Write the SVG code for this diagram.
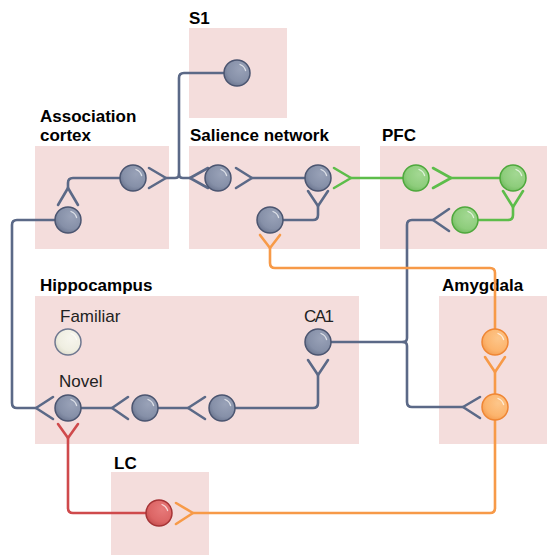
<svg xmlns="http://www.w3.org/2000/svg" width="547" height="555" viewBox="0 0 547 555">
  <defs>
    <radialGradient id="gGray" cx="0.62" cy="0.35" r="0.7">
      <stop offset="0" stop-color="#99a2b8"/>
      <stop offset="0.7" stop-color="#8690a8"/>
      <stop offset="1" stop-color="#6c7690"/>
    </radialGradient>
    <radialGradient id="gGreen" cx="0.62" cy="0.35" r="0.7">
      <stop offset="0" stop-color="#a3d893"/>
      <stop offset="0.7" stop-color="#8ecd7c"/>
      <stop offset="1" stop-color="#72bb60"/>
    </radialGradient>
    <radialGradient id="gOrange" cx="0.62" cy="0.35" r="0.7">
      <stop offset="0" stop-color="#fdc68a"/>
      <stop offset="0.7" stop-color="#fcb46d"/>
      <stop offset="1" stop-color="#f59d50"/>
    </radialGradient>
    <radialGradient id="gRed" cx="0.62" cy="0.35" r="0.7">
      <stop offset="0" stop-color="#e77a7a"/>
      <stop offset="0.7" stop-color="#dc6565"/>
      <stop offset="1" stop-color="#c44f50"/>
    </radialGradient>
    <radialGradient id="gCream" cx="0.62" cy="0.35" r="0.7">
      <stop offset="0" stop-color="#f7f6ee"/>
      <stop offset="0.7" stop-color="#efeee1"/>
      <stop offset="1" stop-color="#dedccb"/>
    </radialGradient>
  </defs>
  <style>
    .region { fill: #f4dddc; }
    .title { font-family: "Liberation Sans", Arial, sans-serif; font-weight: bold; font-size: 17px; fill: #000; }
    .label { font-family: "Liberation Sans", Arial, sans-serif; font-size: 17px; fill: #222; }
    .wire { fill: none; stroke-width: 2.6; stroke-linecap: round; stroke-linejoin: round; }
    .gray { stroke: #5b6987; }
    .green { stroke: #5dbd4a; }
    .orange { stroke: #f79a48; }
    .red { stroke: #cf4a4c; }
    .cell circle { stroke-width: 1.5; }
    .cell.gray circle { fill: url(#gGray); stroke: #4b5570; }
    .cell.green circle { fill: url(#gGreen); stroke: #4ea83c; }
    .cell.orange circle { fill: url(#gOrange); stroke: #ef8634; }
    .cell.red circle { fill: url(#gRed); stroke: #a63436; }
    .cell.cream circle { fill: url(#gCream); stroke: #6f7890; }
    .hl { fill: none; stroke: #ffffff; stroke-opacity: 0.7; stroke-width: 1.3; stroke-linecap: round; }
  </style>

  <!-- brain regions -->
  <g id="regions">
    <rect class="region" x="189" y="28" width="98" height="90"/>
    <rect class="region" x="35" y="146" width="134" height="103"/>
    <rect class="region" x="189" y="146" width="171" height="103"/>
    <rect class="region" x="380" y="146" width="167" height="103"/>
    <rect class="region" x="35" y="296" width="324" height="148"/>
    <rect class="region" x="439" y="296" width="108" height="148"/>
    <rect class="region" x="111" y="472" width="98" height="83"/>
  </g>

  <!-- region titles and cell labels -->
  <g id="titles">
    <text class="title" x="189" y="24">S1</text>
    <text class="title" x="40" y="122">Association</text>
    <text class="title" x="40" y="141">cortex</text>
    <text class="title" x="190" y="141">Salience network</text>
    <text class="title" x="382" y="141">PFC</text>
    <text class="title" x="40" y="291">Hippocampus</text>
    <text class="title" x="442" y="291">Amygdala</text>
    <text class="title" x="114" y="469">LC</text>
    <text class="label" x="60" y="322">Familiar</text>
    <text class="label" x="59" y="387">Novel</text>
    <text class="label" x="304" y="322" textLength="30">CA1</text>
  </g>

  <!-- connectors: axons, dendrites and synaptic forks -->
  <g id="connectors">
    <!-- S1 projection, splitting to association cortex and salience network -->
    <path class="wire gray" d="M224,73 H184 Q179,73 179,78 V174 Q179,178 175,178 H166"/>
    <path class="wire gray" d="M179,174 Q179,178 183,178 H190"/>
    <path class="wire gray" d="M149,168 L166,178 L149,188"/>
    <path class="wire gray" d="M208,168 L190,178 L208,188"/>
    <!-- salience network -->
    <path class="wire gray" d="M236,168 L252,178 L236,188"/>
    <path class="wire gray" d="M252,178 H305"/>
    <path class="wire gray" d="M308,191 L318,206 L328,191"/>
    <path class="wire gray" d="M318,206 V215 Q318,220 313,220 H283"/>
    <!-- association cortex -->
    <path class="wire gray" d="M58,205 L68,188 L78,205"/>
    <path class="wire gray" d="M68,188 V183 Q68,178 73,178 H120"/>
    <!-- long loop from association cortex to novel cell -->
    <path class="wire gray" d="M55,220 H17 Q12,220 12,225 V403 Q12,408 17,408 H36"/>
    <path class="wire gray" d="M53,397 L36,408 L53,419"/>
    <!-- hippocampal chain -->
    <path class="wire gray" d="M81,408 H112"/>
    <path class="wire gray" d="M128,397 L112,408 L128,419"/>
    <path class="wire gray" d="M158,408 H188"/>
    <path class="wire gray" d="M205,397 L188,408 L205,419"/>
    <path class="wire gray" d="M235,408 H313 Q318,408 318,403 V375"/>
    <path class="wire gray" d="M308,360 L318,375 L328,360"/>
    <!-- CA1 output to PFC and amygdala -->
    <path class="wire gray" d="M331,342 H403 Q407,342 407,338 V225 Q407,220 412,220 H433"/>
    <path class="wire gray" d="M403,342 Q407,342 407,346 V402 Q407,407 412,407 H463"/>
    <path class="wire gray" d="M449,209 L433,220 L449,231"/>
    <path class="wire gray" d="M480,397 L463,407 L480,418"/>
    <!-- PFC -->
    <path class="wire green" d="M334,168 L351,178 L334,188"/>
    <path class="wire green" d="M351,178 H403"/>
    <path class="wire green" d="M433,168 L451,178 L433,188"/>
    <path class="wire green" d="M451,178 H500"/>
    <path class="wire green" d="M503,191 L513,207 L523,191"/>
    <path class="wire green" d="M513,207 V215 Q513,220 508,220 H478"/>
    <!-- amygdala -->
    <path class="wire orange" d="M260,235 L270,248 L280,235"/>
    <path class="wire orange" d="M270,248 V263 Q270,268 275,268 H490 Q495,268 495,273 V329"/>
    <path class="wire orange" d="M485,357 L495,372 L505,357"/>
    <path class="wire orange" d="M495,372 V394"/>
    <path class="wire orange" d="M495,420 V508 Q495,513 490,513 H193"/>
    <path class="wire orange" d="M176,503 L193,513 L176,524"/>
    <!-- locus coeruleus -->
    <path class="wire red" d="M58,424 L68,438 L78,424"/>
    <path class="wire red" d="M68,438 V508 Q68,513 73,513 H146"/>
  </g>

  <!-- cells -->
  <g id="s1-cell" class="cell gray" transform="translate(237,73)"><circle r="13"/><path class="hl" d="M3,-8.5 A9,9 0 0 1 8.6,-2.5"/></g>
  <g id="assoc-cell-1" class="cell gray" transform="translate(133,178)"><circle r="13"/><path class="hl" d="M3,-8.5 A9,9 0 0 1 8.6,-2.5"/></g>
  <g id="assoc-cell-2" class="cell gray" transform="translate(68,220)"><circle r="13"/><path class="hl" d="M3,-8.5 A9,9 0 0 1 8.6,-2.5"/></g>
  <g id="salience-cell-1" class="cell gray" transform="translate(218,178)"><circle r="13"/><path class="hl" d="M3,-8.5 A9,9 0 0 1 8.6,-2.5"/></g>
  <g id="salience-cell-2" class="cell gray" transform="translate(318,178)"><circle r="13"/><path class="hl" d="M3,-8.5 A9,9 0 0 1 8.6,-2.5"/></g>
  <g id="salience-cell-3" class="cell gray" transform="translate(270,220)"><circle r="13"/><path class="hl" d="M3,-8.5 A9,9 0 0 1 8.6,-2.5"/></g>
  <g id="pfc-cell-1" class="cell green" transform="translate(416,178)"><circle r="13"/><path class="hl" d="M3,-8.5 A9,9 0 0 1 8.6,-2.5"/></g>
  <g id="pfc-cell-2" class="cell green" transform="translate(513,178)"><circle r="13"/><path class="hl" d="M3,-8.5 A9,9 0 0 1 8.6,-2.5"/></g>
  <g id="pfc-cell-3" class="cell green" transform="translate(465,220)"><circle r="13"/><path class="hl" d="M3,-8.5 A9,9 0 0 1 8.6,-2.5"/></g>
  <g id="familiar-cell" class="cell cream" transform="translate(68,342)"><circle r="13"/><path class="hl" d="M3,-8.5 A9,9 0 0 1 8.6,-2.5"/></g>
  <g id="novel-cell-1" class="cell gray" transform="translate(68,408)"><circle r="13"/><path class="hl" d="M3,-8.5 A9,9 0 0 1 8.6,-2.5"/></g>
  <g id="novel-cell-2" class="cell gray" transform="translate(145,408)"><circle r="13"/><path class="hl" d="M3,-8.5 A9,9 0 0 1 8.6,-2.5"/></g>
  <g id="novel-cell-3" class="cell gray" transform="translate(222,408)"><circle r="13"/><path class="hl" d="M3,-8.5 A9,9 0 0 1 8.6,-2.5"/></g>
  <g id="ca1-cell" class="cell gray" transform="translate(318,342)"><circle r="13"/><path class="hl" d="M3,-8.5 A9,9 0 0 1 8.6,-2.5"/></g>
  <g id="amygdala-cell-1" class="cell orange" transform="translate(495,342)"><circle r="13"/><path class="hl" d="M3,-8.5 A9,9 0 0 1 8.6,-2.5"/></g>
  <g id="amygdala-cell-2" class="cell orange" transform="translate(495,407)"><circle r="13"/><path class="hl" d="M3,-8.5 A9,9 0 0 1 8.6,-2.5"/></g>
  <g id="lc-cell" class="cell red" transform="translate(159,513)"><circle r="13"/><path class="hl" d="M3,-8.5 A9,9 0 0 1 8.6,-2.5"/></g>
</svg>
